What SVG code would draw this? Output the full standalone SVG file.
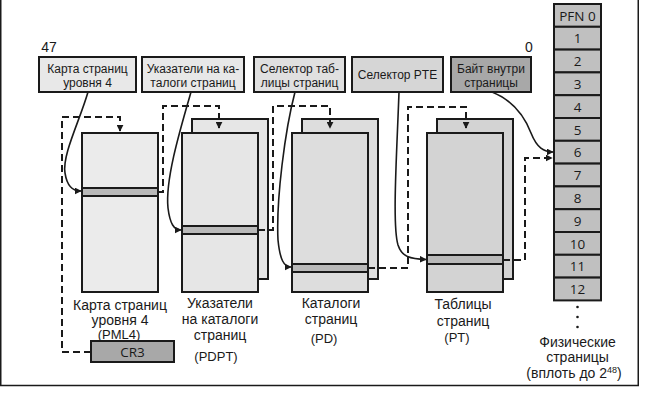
<svg xmlns="http://www.w3.org/2000/svg" width="648" height="401" viewBox="0 0 648 401">
<style>
.t{font-family:"Liberation Sans",Arial,sans-serif;fill:#1a1a1a;text-anchor:middle}
.bt{font-size:12px}
.lt{font-size:14px}
.ab{font-size:13px}
.p{font-family:"Open Sans","DejaVu Sans",sans-serif;font-size:13.5px;fill:#1a1a1a;text-anchor:middle}
.box{stroke:#1a1a1a;stroke-width:2}
.tab{stroke:#1a1a1a;stroke-width:2}
.cell{fill:#c0c0c0;stroke:#1a1a1a;stroke-width:2}
.sol{fill:none;stroke:#1a1a1a;stroke-width:1.6}
.dash{fill:none;stroke:#1a1a1a;stroke-width:2;stroke-dasharray:7 4}
</style>
<defs>
<marker id="ah" viewBox="0 0 10 10" refX="9" refY="5" markerWidth="7" markerHeight="7" markerUnits="userSpaceOnUse" orient="auto">
<path d="M0,0 L10,5 L0,10 Z" fill="#1a1a1a"/>
</marker>
</defs>
<rect x="0.75" y="-2" width="637.5" height="387.5" fill="none" stroke="#1a1a1a" stroke-width="1.5"/>
<text class="t lt" x="49" y="52">47</text>
<text class="t lt" x="529" y="52">0</text>

<g id="box-pml4sel">
<rect class="box" x="39" y="57" width="97" height="35" fill="#e8e8e8"/>
<text class="t bt" x="87.5" y="73">Карта страниц</text>
<text class="t bt" x="87.5" y="87">уровня 4</text>
</g>
<g id="box-pdptsel">
<rect class="box" x="142" y="57" width="102" height="35" fill="#e8e8e8"/>
<text class="t bt" x="193" y="73">Указатели на ка-</text>
<text class="t bt" x="193" y="87">талоги страниц</text>
</g>
<g id="box-pdsel">
<rect class="box" x="254" y="57" width="91" height="35" fill="#e0e0e0"/>
<text class="t bt" x="299.5" y="73">Селектор таб-</text>
<text class="t bt" x="299.5" y="87">лицы страниц</text>
</g>
<g id="box-ptesel">
<rect class="box" x="352" y="57" width="91" height="35" fill="#d6d6d6"/>
<text class="t bt" x="397.5" y="79">Селектор PTE</text>
</g>
<g id="box-byte">
<rect class="box" x="451" y="57" width="80" height="35" fill="#a8a8a8"/>
<text class="t bt" x="491" y="73">Байт внутри</text>
<text class="t bt" x="491" y="87">страницы</text>
</g>

<g id="table-pml4">
<rect class="tab" x="82" y="133" width="76" height="159" fill="#ebebeb"/>
<rect class="tab" x="82" y="188" width="76" height="8" fill="#b9b9b9"/>
<text class="t lt" x="120" y="310">Карта страниц</text>
<text class="t lt" x="120" y="325">уровня 4</text>
<text class="t ab" x="119" y="339">(PML4)</text>
</g>
<g id="table-pdpt">
<rect class="tab" x="192" y="119" width="76" height="160" fill="#e6e6e6"/>
<rect class="tab" x="182" y="133" width="76" height="159" fill="#e6e6e6"/>
<rect class="tab" x="182" y="226" width="76" height="8" fill="#b9b9b9"/>
<text class="t lt" x="220" y="308">Указатели</text>
<text class="t lt" x="220" y="324">на каталоги</text>
<text class="t lt" x="220" y="340">страниц</text>
<text class="t ab" x="216" y="361">(PDPT)</text>
</g>
<g id="table-pd">
<rect class="tab" x="302" y="119" width="76" height="160" fill="#dddddd"/>
<rect class="tab" x="292" y="133" width="76" height="159" fill="#dddddd"/>
<rect class="tab" x="292" y="264" width="76" height="8" fill="#b9b9b9"/>
<text class="t lt" x="331" y="308">Каталоги</text>
<text class="t lt" x="331" y="324">страниц</text>
<text class="t ab" x="324" y="343">(PD)</text>
</g>
<g id="table-pt">
<rect class="tab" x="437" y="119" width="76" height="160" fill="#d3d3d3"/>
<rect class="tab" x="427" y="133" width="76" height="159" fill="#d3d3d3"/>
<rect class="tab" x="427" y="255" width="76" height="9" fill="#b9b9b9"/>
<text class="t lt" x="463" y="309">Таблицы</text>
<text class="t lt" x="463" y="326">страниц</text>
<text class="t ab" x="457" y="342">(PT)</text>
</g>
<g id="cr3">
<rect class="box" x="91" y="341" width="83" height="21" fill="#a8a8a8"/>
<text class="p" x="132.5" y="356.5" font-size="14">CR3</text>
</g>

<g id="pfn">
<rect class="cell" x="554" y="4" width="47" height="22.8"/>
<rect class="cell" x="554" y="26.8" width="47" height="22.8"/>
<rect class="cell" x="554" y="49.6" width="47" height="22.8"/>
<rect class="cell" x="554" y="72.4" width="47" height="22.8"/>
<rect class="cell" x="554" y="95.2" width="47" height="22.8"/>
<rect class="cell" x="554" y="118" width="47" height="22.8"/>
<rect class="cell" x="554" y="140.8" width="47" height="22.8"/>
<rect class="cell" x="554" y="163.6" width="47" height="22.8"/>
<rect class="cell" x="554" y="186.4" width="47" height="22.8"/>
<rect class="cell" x="554" y="209.2" width="47" height="22.8"/>
<rect class="cell" x="554" y="232" width="47" height="22.8"/>
<rect class="cell" x="554" y="254.8" width="47" height="22.8"/>
<rect class="cell" x="554" y="277.6" width="47" height="22.8"/>
<text class="p" x="577.5" y="20.5">PFN 0</text>
<text class="p" x="577.5" y="43.3">1</text>
<text class="p" x="577.5" y="66.1">2</text>
<text class="p" x="577.5" y="88.9">3</text>
<text class="p" x="577.5" y="111.7">4</text>
<text class="p" x="577.5" y="134.5">5</text>
<text class="p" x="577.5" y="157.3">6</text>
<text class="p" x="577.5" y="180.1">7</text>
<text class="p" x="577.5" y="202.9">8</text>
<text class="p" x="577.5" y="225.7">9</text>
<text class="p" x="577.5" y="248.5">10</text>
<text class="p" x="577.5" y="271.3">11</text>
<text class="p" x="577.5" y="294.1">12</text>
<circle cx="577.5" cy="307" r="1.3" fill="#1a1a1a"/>
<circle cx="577.5" cy="317" r="1.3" fill="#1a1a1a"/>
<circle cx="577.5" cy="327" r="1.3" fill="#1a1a1a"/>
<text class="t lt" x="577.5" y="347">Физические</text>
<text class="t lt" x="577.5" y="362">страницы</text>
<text class="t lt" x="574" y="378">(вплоть до 2<tspan font-size="9" dy="-5">48</tspan><tspan dy="5">)</tspan></text>
</g>

<g id="connectors">
<path class="sol" d="M88,92 C80,120 62,155 65,173 C67,186 72,191 81,191" marker-end="url(#ah)"/>
<path class="sol" d="M191,92 C180,130 165,180 168,208 C170,224 174,230 181,230" marker-end="url(#ah)"/>
<path class="sol" d="M295,92 C285,130 276,200 278,240 C280,260 284,267 291,267" marker-end="url(#ah)"/>
<path class="sol" d="M399,92 C397,150 392,225 398,245 C402,257 410,259 426,259.5" marker-end="url(#ah)"/>
<path class="sol" d="M492,92 C512,100 524,115 531,133 C537,148 544,152 553,152" marker-end="url(#ah)"/>
<path class="dash" d="M91,352 H62 V117 H120 V131" marker-end="url(#ah)"/>
<path class="dash" d="M158,192 H163 V106 H219 V128" marker-end="url(#ah)"/>
<path class="dash" d="M258,230 H273 V106 H330 V128" marker-end="url(#ah)"/>
<path class="dash" d="M368,268 H408 V107 H466 V128" marker-end="url(#ah)"/>
<path class="dash" d="M503,260 H525 V158 H552" marker-end="url(#ah)"/>
</g>
</svg>
